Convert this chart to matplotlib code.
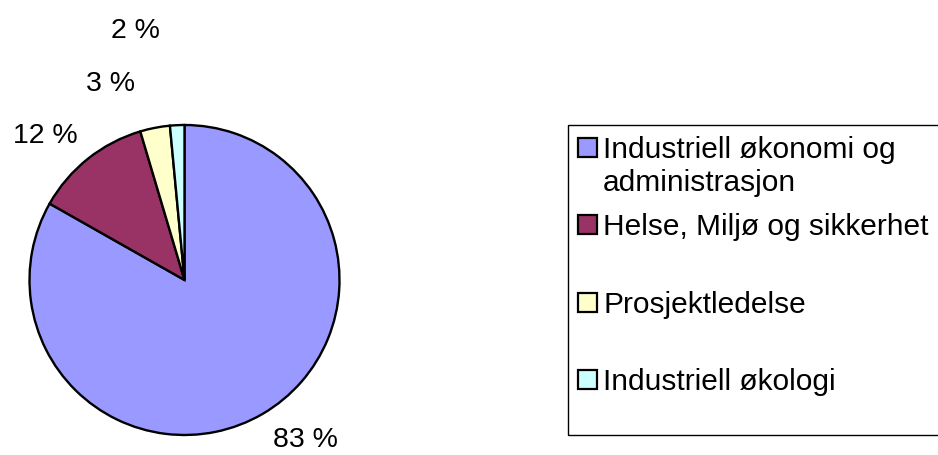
import numpy as np
import matplotlib
matplotlib.use("Agg")
import matplotlib.pyplot as plt
from matplotlib.patches import Rectangle

categories = ["Industriell økonomi og\nadministrasjon", "Helse, Miljø og sikkerhet",
              "Prosjektledelse", "Industriell økologi"]
values = [83.2, 12.2, 3.1, 1.5]
pct_labels = ["83 %", "12 %", "3 %", "2 %"]
colors = ["#9999FF", "#993366", "#FFFFCC", "#CCFFFF"]

plt.rcParams['font.family'] = ['Liberation Sans', 'DejaVu Sans']

W, H = 938, 455
fig = plt.figure(figsize=(W / 100, H / 100), dpi=100)
ax = fig.add_axes([0, 0, 1, 1])
cx, cy, R = 184.5, 280.0, 155.0

wedges, _ = ax.pie(values, colors=colors, startangle=90, counterclock=False,
                   radius=1.0, center=(0, 0), frame=True,
                   wedgeprops=dict(edgecolor='black', linewidth=1.7))
# data units: 1 unit = pie radius; axes spans whole figure
ax.set_xlim(-cx / R, (W - cx) / R)
ax.set_ylim(-(H - cy) / R, cy / R)
ax.set_aspect('auto')
ax.axis('off')

# percent labels placed outside, Excel-style
pfs = 20.5
pcap = 0.716 * pfs * 100 / 72 / R
label_angle_offset = [7.5, 4.9, 9.4, 8.3]
label_radius = [1.28, 1.31, 1.37, 1.66]
for w, lab, off, rr in zip(wedges, pct_labels, label_angle_offset, label_radius):
    mid = np.deg2rad((w.theta1 + w.theta2) / 2 + off)
    ax.text(rr * np.cos(mid), rr * np.sin(mid) - pcap / 2, lab, ha='center',
            va='baseline', fontsize=pfs, color='black')

# legend (drawn in figure pixel coords)
legend_box = Rectangle((568 / W, 1 - 435 / H), (W + 5 - 568) / W, (435 - 125) / H,
                       transform=fig.transFigure, fill=False, edgecolor='black',
                       linewidth=1.0, clip_on=False)
fig.patches.append(legend_box)
fs = 21.5
cap = 0.716 * fs * 100 / 72
entry_y = [147, 224.5, 302, 379]
for yc, col, cat in zip(entry_y, colors, categories):
    sq = Rectangle((577.5 / W, 1 - (yc + 9.5) / H), 19 / W, 19 / H,
                   transform=fig.transFigure, facecolor=col, edgecolor='black',
                   linewidth=1.6)
    fig.patches.append(sq)
    first, *rest = cat.split("\n")
    fig.text(603 / W, 1 - (yc + cap / 2) / H, first, ha='left', va='baseline',
             fontsize=fs, color='black')
    for i, line in enumerate(rest, start=1):
        fig.text(603 / W, 1 - (yc + cap / 2 + 33 * i) / H, line, ha='left',
                 va='baseline', fontsize=fs, color='black')

fig.savefig("out.png", dpi=100)
